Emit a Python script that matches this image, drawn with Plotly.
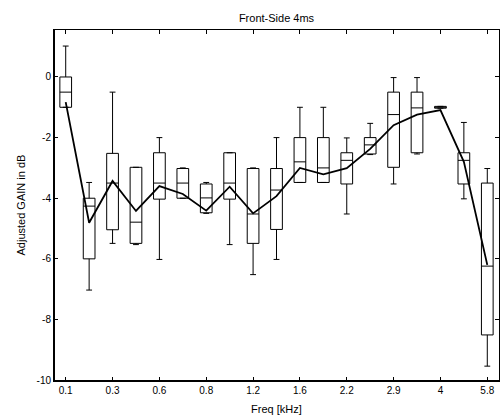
import plotly.graph_objects as go

# ---- data ----
positions = list(range(1, 20))
tick_positions = [1, 3, 5, 7, 9, 11, 13, 15, 17, 19]
tick_labels = ["0.1", "0.3", "0.6", "0.8", "1.2", "1.6", "2.2", "2.9", "4", "5.8"]

q3 = [0.0, -4.0, -2.52, -2.98, -2.5, -3.02, -3.53, -2.5, -3.02, -3.02,
      -2.0, -2.0, -2.5, -2.0, -0.5, -0.5, -0.97, -2.5, -3.5]
median = [-0.5, -4.26, -3.5, -4.79, -3.5, -3.5, -3.99, -3.5, -4.52, -3.73,
          -2.8, -3.0, -2.75, -2.24, -1.24, -1.02, -1.0, -2.75, -6.24]
q1 = [-1.0, -6.0, -5.04, -5.49, -4.03, -4.0, -4.48, -4.03, -5.49, -5.03,
      -3.48, -3.48, -3.53, -2.54, -2.98, -2.5, -1.03, -3.53, -8.51]
upper = [1.02, -3.48, -0.5, -2.98, -2.0, -3.0, -3.48, -2.5, -3.0, -2.0,
         -1.0, -1.0, -2.01, -1.53, -0.02, -0.02, -0.97, -1.5, -3.02]
lower = [-1.0, -7.03, -5.49, -5.53, -6.02, -4.0, -4.5, -5.53, -6.52, -6.02,
         -3.48, -3.48, -4.52, -2.56, -3.53, -2.54, -1.03, -4.02, -9.54]
mean = [-0.83, -4.81, -3.43, -4.42, -3.6, -3.86, -4.41, -3.62, -4.5, -3.93,
        -3.0, -3.21, -3.01, -2.37, -1.59, -1.24, -1.09, -2.8, -6.2]

y_ticks = [0, -2, -4, -6, -8, -10]
y_tick_labels = ["0", "-2", "-4", "-6", "-8", "-10"]

FONT = "Liberation Sans, Arial, sans-serif"

fig = go.Figure()
fig.add_trace(go.Box(
    x=positions, q1=q1, median=median, q3=q3,
    lowerfence=lower, upperfence=upper,
    boxpoints=False, width=0.5, whiskerwidth=0.5,
    fillcolor="white", line=dict(color="black", width=1),
    showlegend=False, hoverinfo="skip",
))
fig.add_trace(go.Scatter(
    x=positions, y=mean, mode="lines",
    line=dict(color="black", width=1.8),
    showlegend=False, hoverinfo="skip",
))

fig.update_layout(
    width=500, height=417,
    margin=dict(l=54, r=1, t=30, b=36),
    paper_bgcolor="white", plot_bgcolor="white",
    font=dict(family=FONT, size=10, color="black"),
    title=dict(text="Front-Side 4ms", x=0.553, xanchor="center",
               y=1 - 18 / 417, yanchor="middle",
               font=dict(family=FONT, size=11, color="black")),
    xaxis=dict(range=[0.5, 19.5], tickvals=tick_positions, ticktext=tick_labels,
               ticks="inside", ticklen=4, tickcolor="black", tickwidth=1,
               showline=True, linecolor="black", linewidth=1, mirror="ticks",
               showgrid=False, zeroline=False,
               tickfont=dict(family=FONT, size=10, color="black")),
    yaxis=dict(range=[-10.03, 1.55], tickvals=y_ticks, ticktext=y_tick_labels,
               ticks="inside", ticklen=4, tickcolor="black", tickwidth=1,
               showline=True, linecolor="black", linewidth=1, mirror="ticks",
               showgrid=False, zeroline=False,
               tickfont=dict(family=FONT, size=10, color="black")),
    shapes=[
        dict(type="line", xref="paper", yref="paper", x0=0, x1=0, y0=0, y1=1,
             line=dict(color="black", width=2)),
        dict(type="line", xref="paper", yref="paper", x0=0, x1=1, y0=0, y1=0,
             line=dict(color="black", width=2)),
    ],
    annotations=[
        dict(text="Freq [kHz]", xref="paper", yref="paper", x=0.5, y=-28 / 351,
             xanchor="center", yanchor="middle", showarrow=False,
             font=dict(family=FONT, size=11, color="black")),
        dict(text="Adjusted GAIN in dB", xref="paper", yref="paper",
             x=-34 / 445, y=0.5, xanchor="center", yanchor="middle",
             textangle=-90, showarrow=False,
             font=dict(family=FONT, size=11, color="black")),
    ],
)

fig.write_html("out.html")
